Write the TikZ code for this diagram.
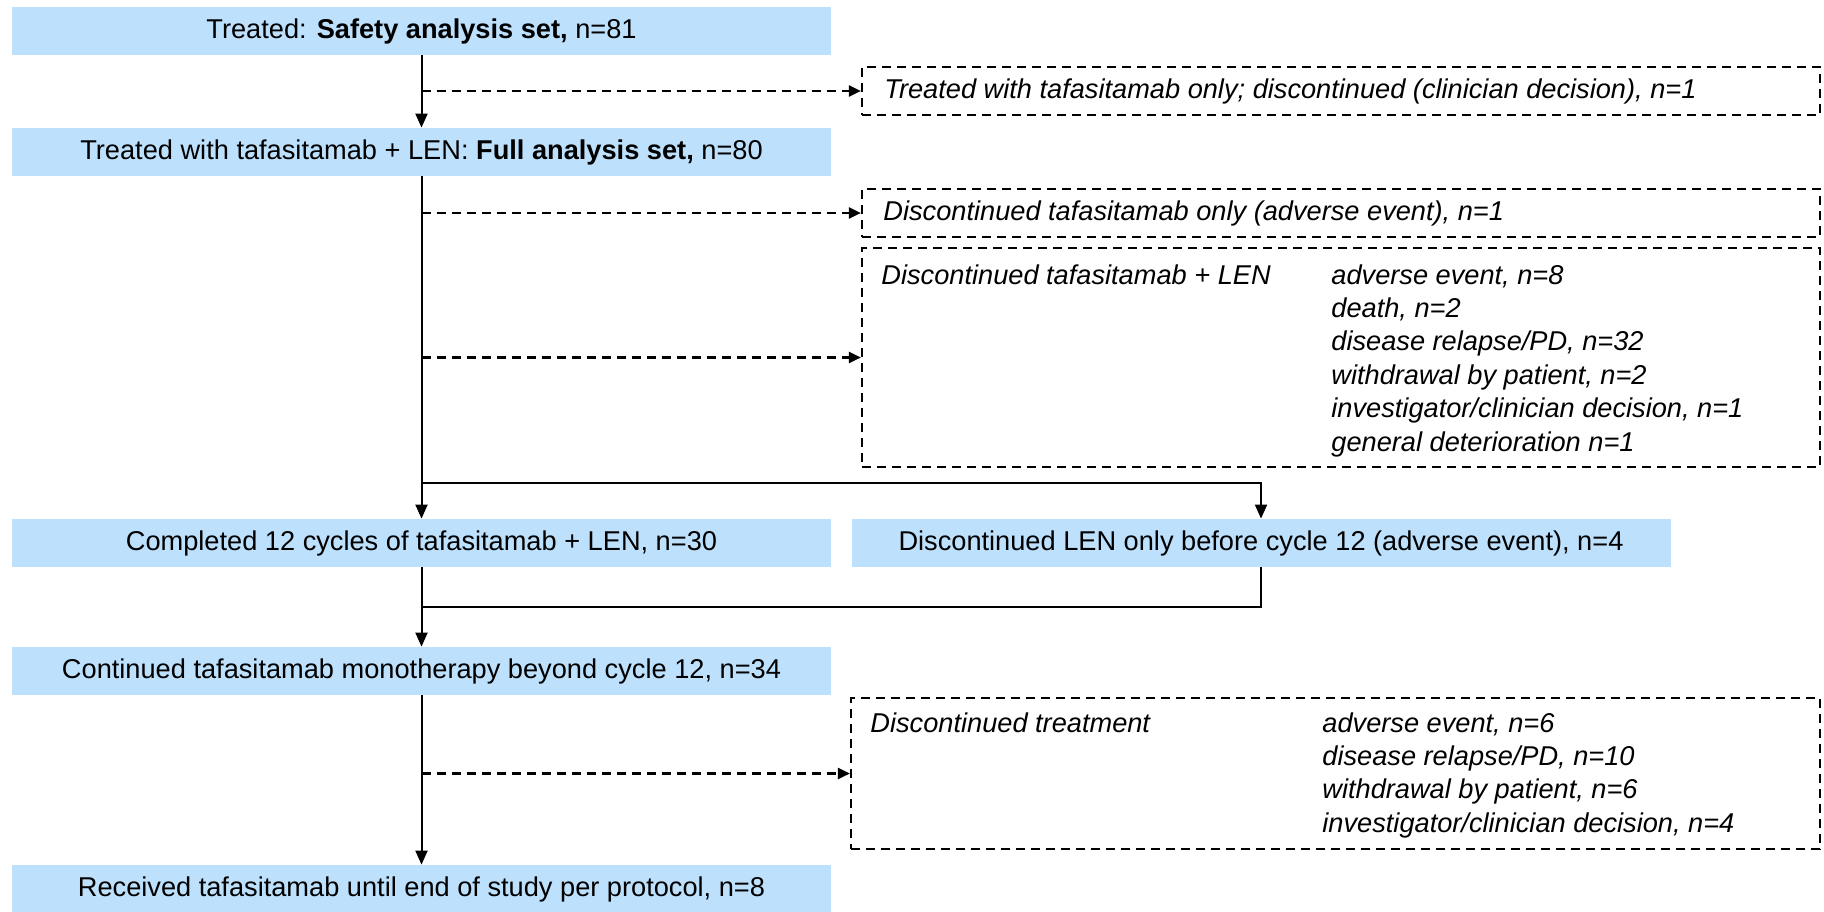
\documentclass[tikz,border=0pt]{standalone}
\usepackage{fontspec}
\setmainfont{Liberation Sans}
\usetikzlibrary{arrows.meta,calc}
\definecolor{boxblue}{RGB}{189,224,252}
\newcommand\myfs{\fontsize{13.6}{16}\selectfont}
\begin{document}
\begin{tikzpicture}[x=0.5pt,y=-0.5pt,
  mainbox/.style={fill=boxblue, minimum width=409.5pt, minimum height=24pt, inner sep=0pt, font=\myfs},
  dbox/.style={draw, line width=1.1pt, dash pattern=on 4.5pt off 3pt, inner sep=0pt, minimum width=479pt},
  arr/.style={line width=1pt, -{Triangle[length=7pt,width=6pt]}},
  darr/.style={line width=1.1pt, dash pattern=on 4.5pt off 3pt, -{Triangle[length=6pt,width=5.5pt]}},
  itext/.style={font=\myfs\itshape, inner sep=0pt},
  plain/.style={line width=1pt}
]
\useasboundingbox (0,0) rectangle (1824,911);

% main boxes
\node[mainbox] (b1) at (421.5,31) {Treated: \textbf{Safety analysis set,} n=81};
\node[mainbox] (b2) at (421.5,152) {Treated with tafasitamab + LEN: \textbf{Full analysis set,} n=80};
\node[mainbox] (b3) at (421.5,543) {Completed 12 cycles of tafasitamab + LEN, n=30};
\node[mainbox] (b4) at (1261,543) {Discontinued LEN only before cycle 12 (adverse event), n=4};
\node[mainbox] (b5) at (421.5,671) {Continued tafasitamab monotherapy beyond cycle 12, n=34};
\node[mainbox] (b6) at (421.5,889) {Received tafasitamab until end of study per protocol, n=8};

% dashed boxes
\node[dbox, minimum height=24pt] (bA) at (1341,91) {};
\node[dbox, minimum height=24pt] (bB) at (1341,213) {};
\node[dbox, minimum height=109.5pt] (bC) at (1341,357.5) {};
\node[dbox, minimum width=484.5pt, minimum height=75.5pt] (bD) at (1335.5,773.5) {};

% dashed box texts
\node[itext, anchor=west] (tA) at (884,91) {Treated with tafasitamab only; discontinued (clinician decision), n=1};
\node[itext, anchor=west] (tB) at (883,213) {Discontinued tafasitamab only (adverse event), n=1};
\node[itext, anchor=base west] (tC) at (881,284) {Discontinued tafasitamab + LEN};
\foreach \t [count=\i from 0] in {{adverse event, n=8},{death, n=2},{disease relapse/PD, n=32},{withdrawal by patient, n=2},{investigator/clinician decision, n=1},{general deterioration n=1}}
  \node[itext, anchor=base west] (rc\i) at (1331,284+33.4*\i) {\t};
\node[itext, anchor=base west] (tD) at (870,732) {Discontinued treatment};
\foreach \t [count=\i from 0] in {{adverse event, n=6},{disease relapse/PD, n=10},{withdrawal by patient, n=6},{investigator/clinician decision, n=4}}
  \node[itext, anchor=base west] (rd\i) at (1322,732+33.4*\i) {\t};

% connectors
\coordinate (br) at (421.5,483);
\coordinate (rj) at (421.5,607);
\draw[arr] (b1.south) -- (b2.north);
\draw[arr] (b2.south) -- (b3.north);
\draw[arr] (br) -| (b4.north);
\draw[plain] (b4.south) |- (rj);
\draw[arr] (b3.south) -- (b5.north);
\draw[arr] (b5.south) -- (b6.north);

\draw[darr] (b1.south |- bA.west) -- (bA.west);
\draw[darr] (b2.south |- bB.west) -- (bB.west);
\draw[darr] (b2.south |- bC.west) -- (bC.west);
\draw[darr] (b5.south |- bD.west) -- (bD.west);
\end{tikzpicture}
\end{document}
